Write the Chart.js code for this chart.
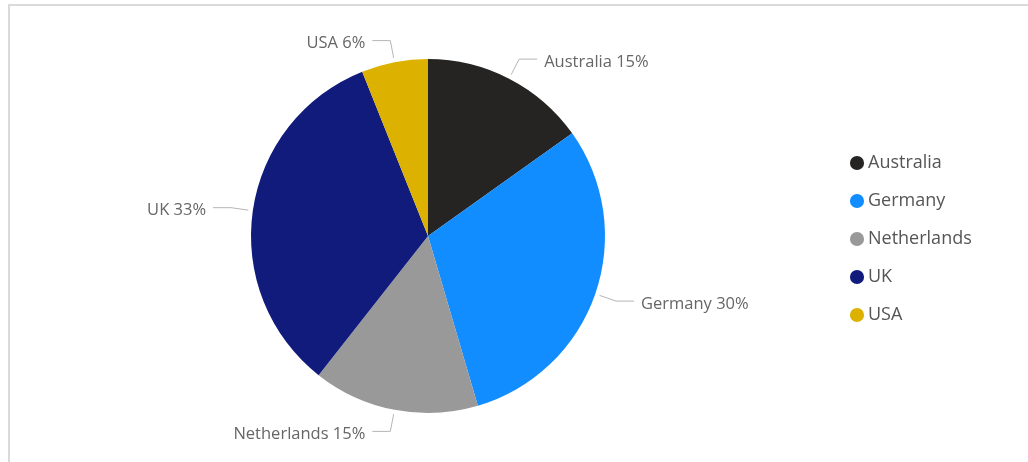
<!DOCTYPE html>
<html>
<head>
<meta charset="utf-8">
<script src="https://cdn.jsdelivr.net/npm/chart.js@4/dist/chart.umd.min.js"></script>
<style>
  html, body { margin: 0; padding: 0; background: #fff; }
  #wrap { position: relative; width: 1028px; height: 462px; overflow: hidden; }
  #frame { position: absolute; left: 8px; top: 4px; width: 1040px; height: 480px;
           border-top: 2px solid #dadada; border-left: 2px solid #dadada; }
  #pie { position: absolute; left: 0; top: 0; }
</style>
</head>
<body>
<div id="wrap">
  <div id="frame"></div>
  <canvas id="pie" width="1028" height="462"></canvas>
</div>
<script>
let countries = ["Australia", "Germany", "Netherlands", "UK", "USA"];
let shares = [15, 30, 15, 33, 6];
let colours = ["#252423", "#118DFF", "#999999", "#111B7C", "#DDB100"];

let fontFamily = "'Open Sans', sans-serif";
let labelSize = 16.5;
let legendSize = 18;
let legendGap = 20;
let legendBox = 4;

// legend sits right of the pie; work out how wide it will be so the pie stays put
let measure = document.createElement("canvas").getContext("2d");
measure.font = `normal ${legendSize}px ${fontFamily}`;
let widest = 0;
countries.forEach((c)=>{ widest = Math.max(widest, measure.measureText(c).width); });
let legendWidth = legendGap + legendBox + legendSize/2 + widest + 10;
let areaRight = 855 - legendGap;
let padRight = 1028 - areaRight - legendWidth;
let padLeft = 2*428 - areaRight;

// leader lines + "Name NN%" labels outside each slice
const sliceLabels = {
  id: "sliceLabels",
  afterDatasetsDraw(chart) {
    let c = chart.ctx;
    let meta = chart.getDatasetMeta(0);
    let vals = chart.data.datasets[0].data;
    let total = vals.reduce((a,b)=>a+b, 0);
    c.save();
    c.font = `normal ${labelSize}px ${fontFamily}`;
    c.textBaseline = "middle";
    meta.data.forEach((arc, i)=>{
      let p = arc.getProps(["x","y","startAngle","endAngle","outerRadius"], true);
      let mid = (p.startAngle + p.endAngle)/2;
      let cx = Math.cos(mid), cy = Math.sin(mid);
      let x0 = p.x + cx*(p.outerRadius+4.5), y0 = p.y + cy*(p.outerRadius+4.5);
      let x1 = p.x + cx*(p.outerRadius+22), y1 = p.y + cy*(p.outerRadius+22);
      let dir = cx >= 0 ? 1 : -1;
      let x2 = x1 + dir*18;
      c.strokeStyle = "#b5b5b5";
      c.lineWidth = 1;
      c.beginPath();
      c.moveTo(x0, y0); c.lineTo(x1, y1); c.lineTo(x2, y1);
      c.stroke();
      c.fillStyle = "#666666";
      c.textAlign = dir > 0 ? "left" : "right";
      let pct = Math.round(vals[i]/total*100);
      c.fillText(`${chart.data.labels[i]} ${pct}%`, x2 + dir*7, y1 + 3);
    });
    c.restore();
  }
};

let ctx = document.getElementById("pie");
let cht = new Chart(ctx, {
  type: "pie",
  data: {
    labels: countries,
    datasets: [{
      data: shares,
      backgroundColor: colours,
      borderWidth: 0,
      hoverOffset: 0
    }]
  },
  options: {
    responsive: false,
    animation: false,
    layout: { padding: { top: 59, bottom: 49, left: padLeft, right: padRight } },
    plugins: {
      tooltip: { enabled: false },
      legend: {
        position: "right",
        align: "center",
        // empty title just nudges the items down a touch
        title: { display: true, text: "", padding: 0, font: { size: 6, lineHeight: 1 } },
        labels: {
          usePointStyle: true,
          pointStyle: "circle",
          boxWidth: legendBox,
          boxHeight: 10,
          padding: legendGap,
          color: "#555555",
          font: { size: legendSize, family: fontFamily }
        }
      }
    }
  },
  plugins: [sliceLabels]
});
</script>
</body>
</html>
